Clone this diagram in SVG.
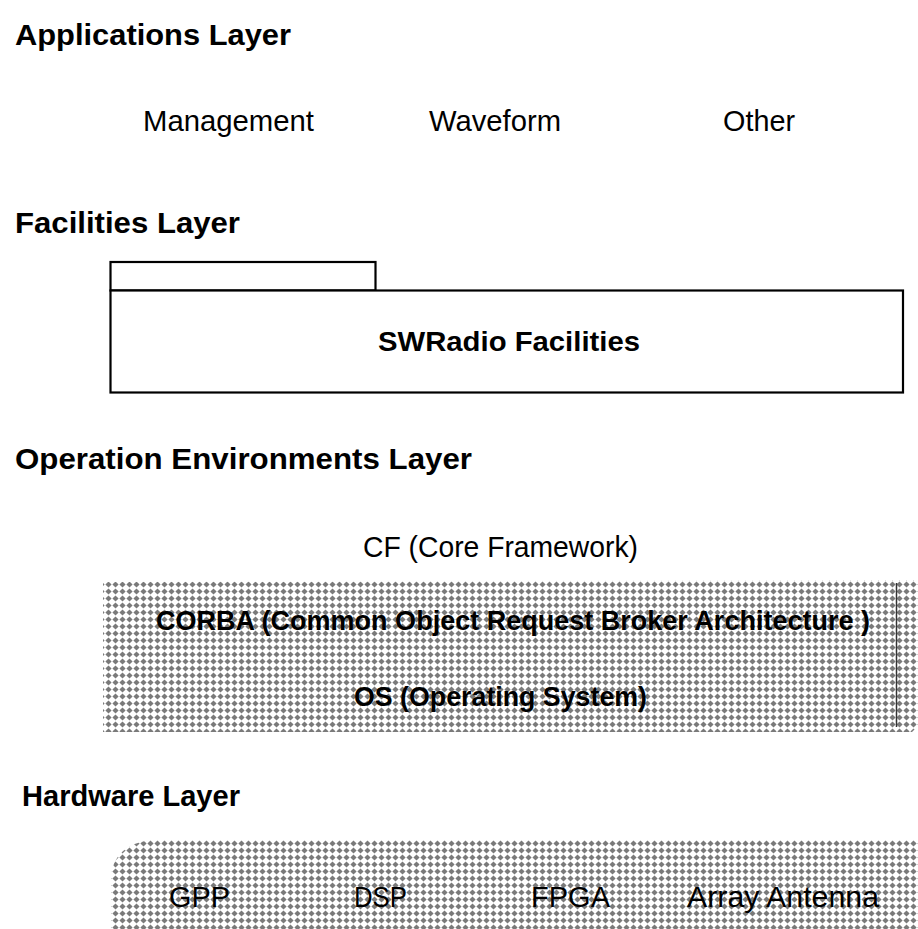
<svg xmlns="http://www.w3.org/2000/svg" width="918" height="929" viewBox="0 0 918 929">
<style>
.hdr{font-family:"Liberation Sans",Arial,sans-serif;font-weight:bold;font-size:30px;fill:#000}
.lbl{font-family:"Liberation Sans",Arial,sans-serif;font-size:29px;fill:#000}
.blbl{font-family:"Liberation Sans",Arial,sans-serif;font-weight:bold;font-size:28px;fill:#000}
.box{fill:#fff;stroke:#000;stroke-width:2.2}
</style>
<defs>
<pattern id="ht" width="7" height="7" patternUnits="userSpaceOnUse">
<rect width="7" height="7" fill="#fff"/>
<path d="M3.5 0.4 L6.6 3.5 L3.5 6.6 L0.4 3.5 Z" fill="#7a7a7a"/>
</pattern>
</defs>
<rect width="918" height="929" fill="#fff"/>

<g id="applications-layer">
<text class="hdr" x="15" y="45" textLength="276" lengthAdjust="spacingAndGlyphs">Applications Layer</text>
<text class="lbl" x="143" y="131" textLength="171" lengthAdjust="spacingAndGlyphs">Management</text>
<text class="lbl" x="429" y="131" textLength="132" lengthAdjust="spacingAndGlyphs">Waveform</text>
<text class="lbl" x="723" y="131" textLength="72" lengthAdjust="spacingAndGlyphs">Other</text>
</g>

<g id="facilities-layer">
<text class="hdr" x="15" y="233" textLength="225" lengthAdjust="spacingAndGlyphs">Facilities Layer</text>
<rect class="box" x="110.5" y="262" width="265" height="28.5"/>
<rect class="box" x="110.5" y="290.5" width="792.5" height="102"/>
<text class="blbl" x="378" y="351" textLength="262" lengthAdjust="spacingAndGlyphs">SWRadio Facilities</text>
</g>

<g id="operation-environments-layer">
<text class="hdr" x="15" y="469" textLength="457" lengthAdjust="spacingAndGlyphs">Operation Environments Layer</text>
<text class="lbl" x="363" y="557" textLength="275" lengthAdjust="spacingAndGlyphs">CF (Core Framework)</text>
<path d="M103 582 L918 580 L918 726 L912 732 L103 732 Z" fill="url(#ht)"/>
<line x1="896.5" y1="583" x2="896.5" y2="727" stroke="#333" stroke-width="1.5"/>
<text class="blbl" x="156" y="630" textLength="714" lengthAdjust="spacingAndGlyphs">CORBA (Common Object Request Broker Architecture )</text>
<text class="blbl" x="354" y="706" textLength="293" lengthAdjust="spacingAndGlyphs">OS (Operating System)</text>
</g>

<g id="hardware-layer">
<text class="hdr" x="22" y="806" textLength="218" lengthAdjust="spacingAndGlyphs">Hardware Layer</text>
<path d="M150 840 L918 840 L918 929 L111 929 L111 875 Q115 845 150 840 Z" fill="url(#ht)"/>
<text class="lbl" x="169" y="907" textLength="61" lengthAdjust="spacingAndGlyphs">GPP</text>
<text class="lbl" x="354" y="907" textLength="53" lengthAdjust="spacingAndGlyphs">DSP</text>
<text class="lbl" x="531" y="907" textLength="79" lengthAdjust="spacingAndGlyphs">FPGA</text>
<text class="lbl" x="687" y="907" textLength="192" lengthAdjust="spacingAndGlyphs">Array Antenna</text>
</g>
</svg>
